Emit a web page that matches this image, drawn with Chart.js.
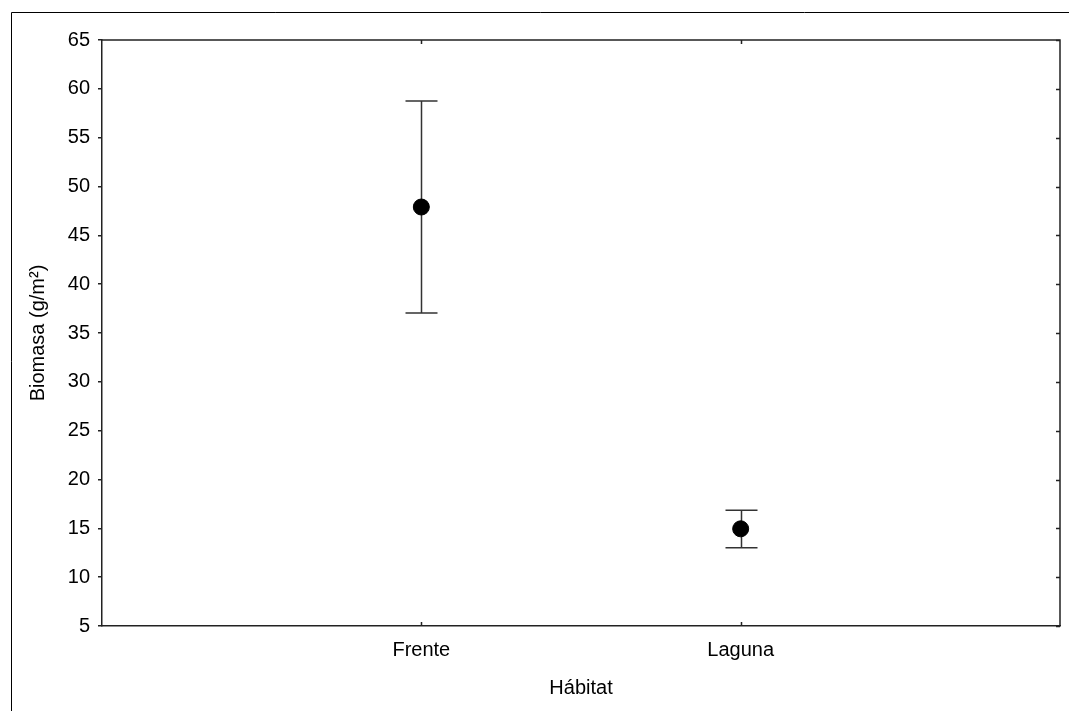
<!DOCTYPE html>
<html>
<head>
<meta charset="utf-8">
<script src="https://cdn.jsdelivr.net/npm/chart.js@4/dist/chart.umd.min.js"></script>
<style>
  html, body { margin: 0; padding: 0; background: #fff; }
  #wrap { width: 1069px; height: 711px; }
</style>
</head>
<body>
<div id="wrap"><canvas id="chart" width="1069" height="711"></canvas></div>
<script>
const habitats = ["Frente", "Laguna"];
const means = [47.9, 14.95];
const upper = [58.75, 16.85];
const lower = [37.05, 13.0];
const yTicks = [5, 10, 15, 20, 25, 30, 35, 40, 45, 50, 55, 60, 65];

const ink = "#222";
const fnt = { family: "Liberation Sans", size: 20 };

// error bars, inner ticks and the outer frame
const extras = {
  id: "extras",
  beforeDatasetsDraw(chart) {
    const ctx = chart.ctx;
    const x = chart.scales.x;
    const y = chart.scales.y;
    ctx.save();
    ctx.strokeStyle = "#333";
    ctx.lineWidth = 1.5;
    habitats.forEach((h, i) => {
      const px = Math.round(x.getPixelForValue(i + 1)) + 0.5;
      const yt = y.getPixelForValue(upper[i]);
      const yb = y.getPixelForValue(lower[i]);
      ctx.beginPath();
      ctx.moveTo(px, yt);
      ctx.lineTo(px, yb);
      ctx.moveTo(px - 16, yt);
      ctx.lineTo(px + 16, yt);
      ctx.moveTo(px - 16, yb);
      ctx.lineTo(px + 16, yb);
      ctx.stroke();
    });
    ctx.restore();
  },
  afterDraw(chart) {
    const ctx = chart.ctx;
    const a = chart.chartArea;
    const x = chart.scales.x;
    const y = chart.scales.y;
    ctx.save();
    ctx.strokeStyle = ink;
    ctx.lineWidth = 1.5;
    ctx.beginPath();
    ctx.moveTo(a.left, a.top);
    ctx.lineTo(a.right, a.top);
    ctx.lineTo(a.right, a.bottom);
    ctx.stroke();
    ctx.beginPath();
    yTicks.forEach(v => {
      const py = Math.round(y.getPixelForValue(v)) + 0.5;
      ctx.moveTo(a.right, py);
      ctx.lineTo(a.right - 4, py);
    });
    habitats.forEach((h, i) => {
      const px = Math.round(x.getPixelForValue(i + 1)) + 0.5;
      ctx.moveTo(px, a.top);
      ctx.lineTo(px, a.top + 4);
      ctx.moveTo(px, a.bottom);
      ctx.lineTo(px, a.bottom - 4);
    });
    ctx.stroke();
    // outer frame
    ctx.strokeStyle = "#000";
    ctx.lineWidth = 1;
    ctx.beginPath();
    ctx.moveTo(11.5, 711);
    ctx.lineTo(11.5, 12.5);
    ctx.lineTo(1069, 12.5);
    ctx.stroke();
    ctx.restore();
  }
};

new Chart(document.getElementById("chart"), {
  type: "scatter",
  data: {
    datasets: [{
      data: means.map((m, i) => ({ x: i + 1, y: m })),
      backgroundColor: "#000",
      borderColor: "#000",
      pointRadius: 8,
      pointHoverRadius: 8
    }]
  },
  options: {
    responsive: false,
    animation: false,
    layout: { padding: { top: 40, right: 9, left: 0, bottom: 0 } },
    plugins: { legend: { display: false }, tooltip: { enabled: false } },
    scales: {
      x: {
        type: "linear",
        min: 0,
        max: 3,
        afterBuildTicks: s => { s.ticks = habitats.map((h, i) => ({ value: i + 1 })); },
        afterFit: s => { s.height = 85; },
        ticks: {
          callback: v => habitats[v - 1],
          color: "#000",
          padding: 4,
          font: fnt
        },
        grid: { display: false },
        border: { display: true, color: ink, width: 1.5 },
        title: {
          display: true,
          text: "Hábitat",
          color: "#000",
          font: fnt,
          padding: { top: 0, bottom: 11 }
        }
      },
      y: {
        min: 5,
        max: 65,
        afterBuildTicks: s => { s.ticks = yTicks.map(v => ({ value: v })); },
        afterFit: s => { s.width = 102; },
        ticks: {
          color: "#000",
          padding: 8,
          font: fnt
        },
        grid: { drawOnChartArea: false, drawTicks: true, tickLength: 4, color: ink, lineWidth: 1.5 },
        border: { display: true, color: ink, width: 1.5 },
        title: {
          display: true,
          text: "Biomasa (g/m²)",
          color: "#000",
          font: fnt,
          padding: { top: 26, bottom: 0 }
        }
      }
    }
  },
  plugins: [extras]
});
</script>
</body>
</html>
